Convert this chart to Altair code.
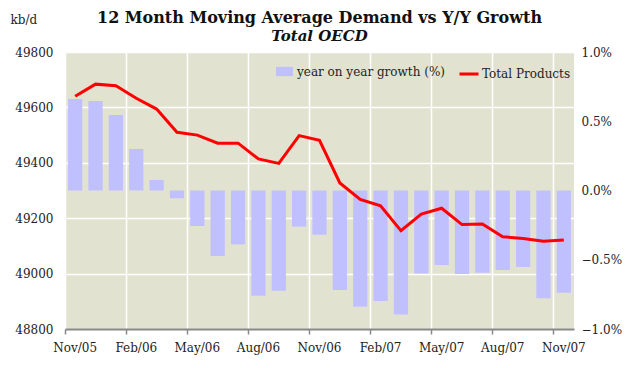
import altair as alt
import pandas as pd

months = ["Nov/05", "Dec/05", "Jan/06", "Feb/06", "Mar/06", "Apr/06", "May/06",
          "Jun/06", "Jul/06", "Aug/06", "Sep/06", "Oct/06", "Nov/06", "Dec/06",
          "Jan/07", "Feb/07", "Mar/07", "Apr/07", "May/07", "Jun/07", "Jul/07",
          "Aug/07", "Sep/07", "Oct/07", "Nov/07"]

demand = [49640, 49684, 49678, 49633, 49594, 49510, 49500, 49471, 49471, 49414,
          49398, 49498, 49481, 49327, 49268, 49245, 49155, 49215, 49236, 49177,
          49179, 49133, 49127, 49117, 49121]

growth = [0.66, 0.646, 0.545, 0.30, 0.076, -0.056, -0.256, -0.473, -0.389, -0.76,
          -0.723, -0.261, -0.319, -0.718, -0.839, -0.798, -0.895, -0.60, -0.538,
          -0.603, -0.593, -0.574, -0.552, -0.778, -0.738]

tick_months = ["Nov/05", "Feb/06", "May/06", "Aug/06", "Nov/06", "Feb/07",
               "May/07", "Aug/07", "Nov/07"]

bar_name = "year on year growth (%)"
line_name = "Total Products"

df = pd.DataFrame({"month": months, "demand": demand, "growth": growth,
                   "bar_s": bar_name, "line_s": line_name})

FONT = "DejaVu Serif"
W, H = 509, 277

x_enc = alt.X("month:N", sort=months,
              scale=alt.Scale(paddingInner=0, paddingOuter=0),
              axis=alt.Axis(values=tick_months, bandPosition=0,
                            labelAngle=0, tickSize=5, tickColor="#888888",
                            tickWidth=1.5, domainColor="#888888", domainWidth=2,
                            grid=True, gridColor="#FFFFFF", gridWidth=1.5,
                            labelPadding=8, title=None))

bars = alt.Chart(df).mark_bar(width=alt.RelativeBandSize(0.7)).encode(
    x=x_enc,
    y=alt.Y("growth:Q", scale=alt.Scale(domain=[-1, 1], nice=False),
            axis=alt.Axis(orient="right", values=[-1, -0.5, 0, 0.5, 1],
                          labelExpr="format(datum.value, '.1f') + '%'",
                          grid=False, domain=False, ticks=False,
                          labelPadding=7, title=None)),
    fill=alt.Fill("bar_s:N", scale=alt.Scale(domain=[bar_name], range=["#C0C0FF"]),
                  legend=alt.Legend(orient="none", legendX=211, legendY=11,
                                    title=None, symbolType="M-1,-0.55H1V0.55H-1Z",
                                    symbolSize=289, symbolStrokeWidth=0,
                                    labelFont=FONT, labelFontSize=12,
                                    labelColor="#222222", padding=0)),
)

line = alt.Chart(df).mark_line(strokeWidth=3).encode(
    x=x_enc,
    y=alt.Y("demand:Q", scale=alt.Scale(domain=[48800, 49800], nice=False, zero=False),
            axis=alt.Axis(orient="left", values=list(range(48800, 49801, 200)),
                          format="d", grid=True, gridColor="#FFFFFF", gridWidth=1.5,
                          domain=False, ticks=False, labelPadding=12,
                          title="kb/d", titleAngle=0, titleX=-55, titleY=-29,
                          titleAlign="left", titleBaseline="alphabetic",
                          titleFont=FONT, titleFontWeight="normal",
                          titleFontSize=12, titleColor="#222222")),
    stroke=alt.Stroke("line_s:N", scale=alt.Scale(domain=[line_name], range=["#FF0000"]),
                      legend=alt.Legend(orient="none", legendX=393, legendY=11,
                                        title=None, symbolType="stroke",
                                        symbolSize=361, symbolStrokeWidth=3,
                                        labelOffset=2,
                                        labelFont=FONT, labelFontSize=12,
                                        labelColor="#222222", padding=0)),
)

chart = alt.layer(bars, line).resolve_scale(
    y="independent", fill="independent", stroke="independent"
).properties(
    width=W, height=H,
    autosize=alt.AutoSizeParams(type="none"),
    padding={"left": 57, "top": 44, "right": 50, "bottom": 26},
    background="#FFFFFF",
    title=alt.TitleParams(
        text="12 Month Moving Average Demand vs Y/Y Growth",
        subtitle="Total OECD",
        font=FONT, fontSize=16, fontWeight="bold", color="#111111",
        subtitleFont=FONT, subtitleFontSize=15, subtitleFontStyle="italic",
        subtitleFontWeight="bold", subtitleColor="#111111",
        subtitlePadding=3, anchor="middle", offset=-31),
).configure_view(
    fill="#E2E2D0", stroke=None
).configure_axis(
    labelFont=FONT, labelFontSize=12, labelColor="#222222"
)

chart.save("out.html", embed_options={"renderer": "svg", "actions": False})
